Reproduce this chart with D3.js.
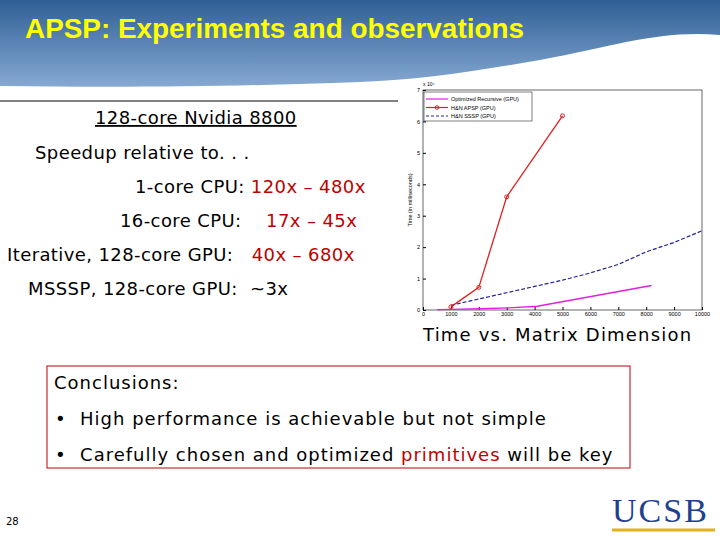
<!DOCTYPE html><html><head><meta charset="utf-8"><script src="https://cdn.jsdelivr.net/npm/d3@7"></script>
<style>body{margin:0}svg{display:block}text{white-space:pre}</style></head><body><svg id="s" width="720" height="540"></svg><script>
const xTicks=[0,1000,2000,3000,4000,5000,6000,7000,8000,9000,10000];
const yTicks=[0,1,2,3,4,5,6,7];
const recX=[512,1024,2048,3072,4096,8192], recY=[0.01,0.02,0.04,0.07,0.12,0.78];
const apspX=[1000,2000,3000,5000], apspY=[0.1,0.72,3.6,6.18];
const ssspX=[1000,2000,3000,4000,5000,6000,7000,8000,9000,10000], ssspY=[0.15,0.35,0.55,0.75,0.95,1.18,1.45,1.85,2.15,2.52];
const seriesNames=["Optimized Recursive (GPU)","H&N APSP (GPU)","H&N SSSP (GPU)"];
const svg=d3.select("#s");
const defs=svg.append("defs");
const g=defs.append("linearGradient").attr("id","bg").attr("x1",0).attr("y1",0).attr("x2",0).attr("y2",1);
g.append("stop").attr("offset",0).attr("stop-color","#2f5f96");
g.append("stop").attr("offset",1).attr("stop-color","#86a9d2");
svg.append("rect").attr("width",720).attr("height",540).attr("fill","#fff");
svg.append("path").attr("d","M0,0H720V35C660,30 620,45 540,60C470,72 420,80 360,82C250,86 140,88 0,86Z").attr("fill","url(#bg)");
svg.append("text").attr("x",25).attr("y",38).attr("font-family","Liberation Sans Narrow, Liberation Sans, Arial").attr("font-weight","bold").attr("font-size",28).attr("textLength",499).attr("lengthAdjust","spacingAndGlyphs").attr("fill","#ffff00").text("APSP: Experiments and observations");
svg.append("line").attr("x1",0).attr("x2",398).attr("y1",101).attr("y2",101).attr("stroke","#000");
const F="DejaVu Sans, Verdana";
function t(x,y,parts){const e=svg.append("text").attr("x",x).attr("y",y).attr("font-family",F).attr("font-size",18).attr("letter-spacing",1);parts.forEach(p=>e.append("tspan").attr("fill",p[1]||"#000").text(p[0]));return e;}
t(95,124,[["128-core Nvidia 8800"]]).attr("text-decoration","underline").attr("letter-spacing",0.4);
t(35,159,[["Speedup relative to. . ."]]).attr("letter-spacing",0.4);
t(135,193,[["1-core CPU: "],["120x – 480x","#c00000"]]).attr("letter-spacing",0.4);
t(120,227,[["16-core CPU:   "],[" 17x – 45x","#c00000"]]).attr("letter-spacing",0.4);
t(7,261,[["Iterative, 128-core GPU:   "],["40x – 680x","#c00000"]]).attr("letter-spacing",0.4);
t(28,295,[["MSSSP, 128-core GPU:  ~3x"]]).attr("letter-spacing",0.4);
t(423,341,[["Time vs. Matrix Dimension"]]).attr("letter-spacing",1.2);
svg.append("rect").attr("x",47).attr("y",366).attr("width",583).attr("height",102).attr("fill","none").attr("stroke","#c00000");
t(54,389,[["Conclusions:"]]);
t(55,425,[["•  High performance is achievable but not simple"]]);
t(55,461,[["•  Carefully chosen and optimized "],["primitives","#c00000"],[" will be key"]]);
svg.append("text").attr("x",6).attr("y",525).attr("font-family",F).attr("font-size",10).text("28");
svg.append("text").attr("x",612).attr("y",522).attr("font-family","Liberation Serif, serif").attr("font-size",34).attr("fill","#1f3f8f").attr("letter-spacing",2).text("UCSB");
svg.append("line").attr("x1",612).attr("x2",715).attr("y1",530).attr("y2",530).attr("stroke","#e0b020").attr("stroke-width",3);
const x=d3.scaleLinear().domain([0,10000]).range([423,702]);
const y=d3.scaleLinear().domain([0,7]).range([310,90]);
const c=svg.append("g").attr("font-family","Liberation Sans, Arial");
c.append("rect").attr("x",423).attr("y",90).attr("width",279).attr("height",220).attr("fill","#fff").attr("stroke","#000").attr("stroke-width",0.6);
const ax=c.append("g").attr("transform","translate(0,310)").call(d3.axisBottom(x).tickValues(xTicks).tickFormat(d3.format("d")).tickSize(-3).tickPadding(2));
ax.select(".domain").remove();ax.selectAll("text").attr("font-size",5.5);
const ay=c.append("g").attr("transform","translate(423,0)").call(d3.axisLeft(y).tickValues(yTicks).tickFormat(d3.format("d")).tickSize(-3).tickPadding(3));
ay.select(".domain").remove();ay.selectAll("text").attr("font-size",5.5);
c.append("text").attr("x",423).attr("y",86).attr("font-size",5).text("x 10⁴");
c.append("text").attr("transform","translate(412,200) rotate(-90)").attr("text-anchor","middle").attr("font-size",5.5).text("Time (in milliseconds)");
const line=d3.line().x(d=>x(d[0])).y(d=>y(d[1]));
const rec=recX.map((v,i)=>[v,recY[i]]),ap=apspX.map((v,i)=>[v,apspY[i]]),ss=ssspX.map((v,i)=>[v,ssspY[i]]);
c.append("path").attr("d",line(rec)).attr("fill","none").attr("stroke","#e020e0").attr("stroke-width",1.3);
c.append("path").attr("d",line(ss)).attr("fill","none").attr("stroke","#22229a").attr("stroke-width",1.2).attr("stroke-dasharray","4,2");
c.append("path").attr("d",line(ap)).attr("fill","none").attr("stroke","#e02020").attr("stroke-width",1.3);
c.selectAll(".m").data(ap).join("circle").attr("cx",d=>x(d[0])).attr("cy",d=>y(d[1])).attr("r",2).attr("fill","none").attr("stroke","#e02020");
const lg=c.append("g");
lg.append("rect").attr("x",424).attr("y",92).attr("width",108).attr("height",29).attr("fill","#fff").attr("stroke","#000").attr("stroke-width",0.5);
const cols=["#e020e0","#e02020","#22229a"];
seriesNames.forEach((n,i)=>{const yy=99+i*8.5;
lg.append("line").attr("x1",426).attr("x2",448).attr("y1",yy).attr("y2",yy).attr("stroke",cols[i]).attr("stroke-width",1.2).attr("stroke-dasharray",i==2?"3,2":null);
if(i==1)lg.append("circle").attr("cx",437).attr("cy",yy).attr("r",1.8).attr("fill","none").attr("stroke",cols[i]);
lg.append("text").attr("x",451).attr("y",yy+2).attr("font-size",5.5).text(n);});
</script></body></html>
